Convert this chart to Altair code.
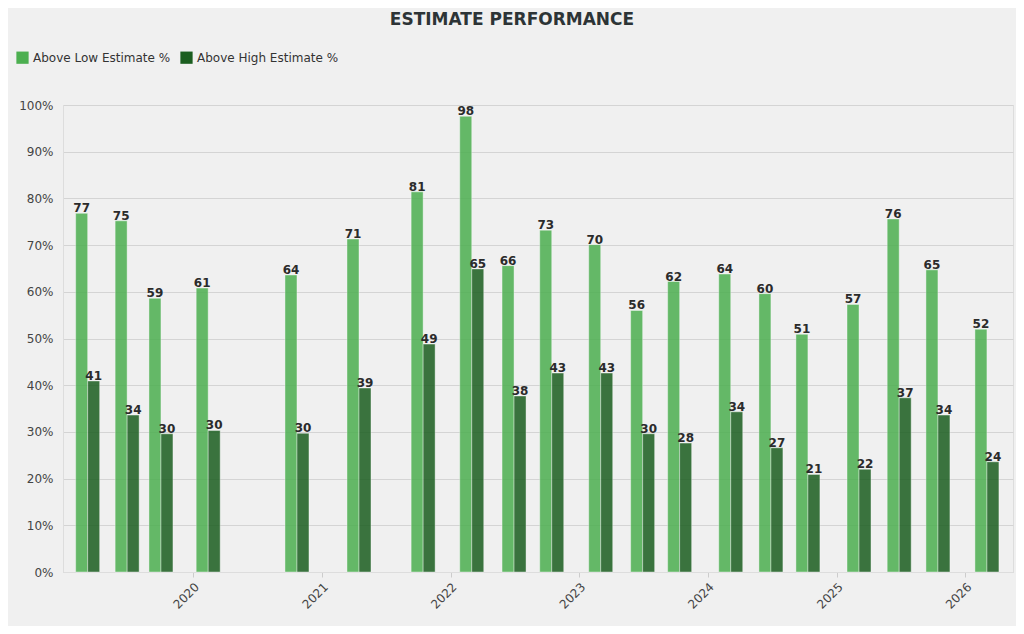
import altair as alt
import pandas as pd

# ---- data ----
dates = [
    "2019-03-08", "2019-06-28", "2019-10-02", "2020-02-13", "2020-10-22",
    "2021-04-16", "2021-10-15", "2022-03-02", "2022-06-30", "2022-10-15",
    "2023-03-03", "2023-06-30", "2023-10-13", "2024-03-06", "2024-06-28",
    "2024-10-11", "2025-03-05", "2025-06-27", "2025-10-15", "2026-03-03",
]
above_low = [76.8, 75.2, 58.6, 60.8, 63.6, 71.3, 81.4, 97.6, 65.6, 73.2,
             70.1, 56.0, 62.2, 63.8, 59.6, 50.9, 57.3, 75.6, 64.7, 52.0]
above_high = [40.9, 33.6, 29.6, 30.3, 29.7, 39.4, 48.8, 64.9, 37.7, 42.6,
              42.6, 29.6, 27.6, 34.3, 26.6, 20.9, 22.0, 37.3, 33.6, 23.6]
series_names = ["Above Low Estimate %", "Above High Estimate %"]
series_colors = ["#4caf50", "#1b5e20"]
y_ticks = [0, 10, 20, 30, 40, 50, 60, 70, 80, 90, 100]
year_ticks = [2020, 2021, 2022, 2023, 2024, 2025, 2026]
x_domain = ["2018-12-28", "2026-05-16"]

rows = []
for d, lo, hi in zip(dates, above_low, above_high):
    rows.append({"date": d, "series": series_names[0], "value": lo})
    rows.append({"date": d, "series": series_names[1], "value": hi})
df = pd.DataFrame(rows)

FONT = "DejaVu Sans"

x_scale = alt.Scale(domain=x_domain, padding=0, nice=False)

x_enc = alt.X(
    "date:T",
    scale=x_scale,
    axis=alt.Axis(
        title=None, format="%Y",
        values=[alt.DateTime(year=y, month=1, date=1) for y in year_ticks],
        labelAngle=-45,
        grid=False, labelFontSize=12, labelColor="#444444",
        domainColor="#dddddd", tickColor="#cccccc", tickSize=5,
        labelPadding=4,
    ),
)
y_enc = alt.Y(
    "value:Q",
    scale=alt.Scale(domain=[0, 100], nice=False, padding=0),
    axis=alt.Axis(
        title=None, values=y_ticks, labelExpr="datum.value + '%'",
        labelFontSize=12, labelColor="#444444", ticks=False,
        domainColor="#dddddd", gridColor="#d4d4d4", labelPadding=10,
    ),
)
color_enc = alt.Color(
    "series:N",
    scale=alt.Scale(domain=series_names, range=series_colors),
    legend=alt.Legend(
        title=None, orient="none", legendX=-47, legendY=-54,
        direction="horizontal", symbolType="square", symbolSize=150,
        symbolStrokeWidth=0, symbolOpacity=1, labelFontSize=12,
        labelColor="#333333", columnPadding=9, labelOffset=4,
    ),
)

base = alt.Chart(df)

bar_kw = dict(width=12, opacity=0.85, stroke="#ffffff",
              strokeWidth=0.8, strokeOpacity=0.5)

low_bars = base.transform_filter(
    alt.datum.series == series_names[0]
).mark_bar(xOffset=-6, **bar_kw).encode(x=x_enc, y=y_enc, color=color_enc)

high_bars = base.transform_filter(
    alt.datum.series == series_names[1]
).mark_bar(xOffset=6, **bar_kw).encode(x=x_enc, y=y_enc, color=color_enc)

text_kw = dict(fontSize=12, fontWeight="bold", color="#2b2b2b",
               baseline="alphabetic", dy=-1, font=FONT)

low_text = base.transform_filter(
    alt.datum.series == series_names[0]
).mark_text(xOffset=-6, **text_kw).encode(
    x=alt.X("date:T", scale=x_scale), y="value:Q",
    text=alt.Text("value:Q", format=".0f")
)
high_text = base.transform_filter(
    alt.datum.series == series_names[1]
).mark_text(xOffset=6, **text_kw).encode(
    x=alt.X("date:T", scale=x_scale), y="value:Q",
    text=alt.Text("value:Q", format=".0f")
)

chart = alt.layer(low_bars, high_bars, low_text, high_text).properties(
    width=950,
    height=467,
    title=alt.TitleParams(
        "ESTIMATE PERFORMANCE", fontSize=17, fontWeight="bold",
        color="#2d3436", anchor="middle", dx=-26, offset=22, font=FONT,
    ),
    autosize=alt.AutoSizeParams(type="none"),
    padding={"left": 55, "top": 97, "right": 3, "bottom": 54},
    background="#f0f0f0",
).configure_view(stroke=None).configure(font=FONT)

chart.save("out.html", embed_options={"renderer": "svg", "actions": False})
